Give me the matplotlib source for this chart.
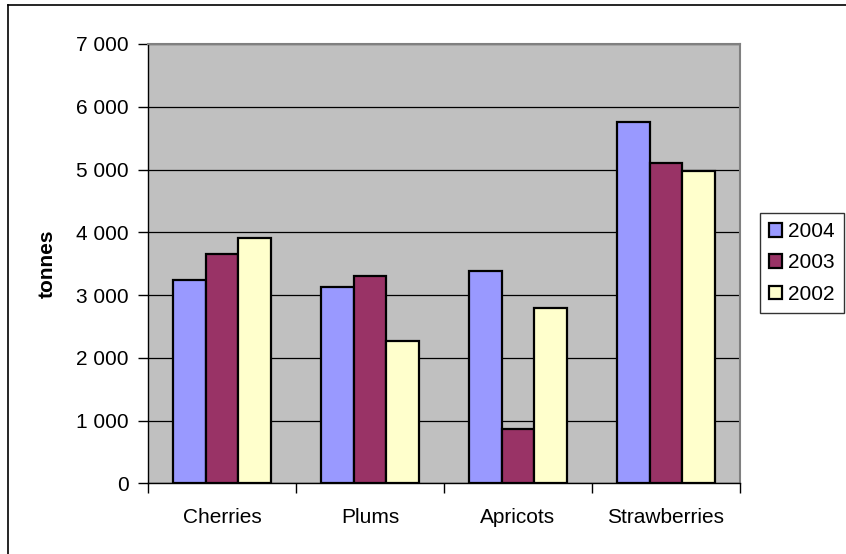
import matplotlib
matplotlib.use("Agg")
import matplotlib.pyplot as plt
from matplotlib.lines import Line2D
from matplotlib.ticker import FuncFormatter
import numpy as np

plt.rcParams['font.family'] = ['Liberation Sans', 'DejaVu Sans']

categories = ["Cherries", "Plums", "Apricots", "Strawberries"]
series_names = ["2004", "2003", "2002"]
values_2004 = [3240, 3130, 3380, 5760]
values_2003 = [3650, 3300, 865, 5110]
values_2002 = [3910, 2270, 2790, 4980]
series_colors = ["#9999FF", "#993366", "#FFFFCC"]
y_ticks = [0, 1000, 2000, 3000, 4000, 5000, 6000, 7000]

W, H = 846, 554
FS = 15
fig = plt.figure(figsize=(W / 100, H / 100), dpi=100)
fig.patch.set_facecolor("white")

# chart-area frame (left and top edges visible)
fig.add_artist(Line2D([8 / W, 8 / W], [0, 1 - 5 / H], color="black", lw=1.2,
                      transform=fig.transFigure))
fig.add_artist(Line2D([8 / W, 1], [1 - 5 / H, 1 - 5 / H], color="black", lw=1.2,
                      transform=fig.transFigure))

left, right, top, bottom = 148, 740, 44, 483.3
ax = fig.add_axes([left / W, 1 - bottom / H, (right - left) / W, (bottom - top) / H])
ax.set_facecolor("#C0C0C0")

n = len(categories)
x = np.arange(n)
bar_w = 1 / (3 + 1.5)
all_series = [values_2004, values_2003, values_2002]
for i, (vals, name, col) in enumerate(zip(all_series, series_names, series_colors)):
    ax.bar(x + (i - 1) * bar_w, vals, width=bar_w, color=col, edgecolor="black",
           linewidth=1.6, label=name, zorder=3)

ax.set_xlim(-0.5, n - 0.5)
ax.set_ylim(0, 7000)
ax.set_yticks(y_ticks)
ax.yaxis.set_major_formatter(FuncFormatter(lambda v, p: f"{int(v):,}".replace(",", " ")))
ax.yaxis.grid(True, color="black", lw=0.9, zorder=1)
ax.set_axisbelow(True)

ax.set_xticks(np.arange(-0.5, n, 1.0))
ax.set_xticklabels([])
ax.set_xticks(x, minor=True)
ax.set_xticklabels(categories, minor=True)
ax.tick_params(axis="x", which="minor", length=0, pad=18, labelsize=FS)
ax.tick_params(axis="x", which="major", length=7, width=1, color="black")
ax.tick_params(axis="y", length=7, width=1, pad=7, labelsize=FS)

for s in ["top", "right"]:
    ax.spines[s].set_color("#808080")
    ax.spines[s].set_linewidth(1.5)
for s in ["left", "bottom"]:
    ax.spines[s].set_color("black")
    ax.spines[s].set_linewidth(1.0)

ax.set_ylabel("tonnes", fontsize=FS, fontweight="bold")
ax.yaxis.set_label_coords((57 - left) / (right - left), 0.5)

leg = fig.legend(loc="upper left", bbox_to_anchor=(760 / W, 1 - 213 / H),
                 frameon=True, fancybox=False, fontsize=FS, handlelength=0.6,
                 handleheight=0.6, handletextpad=0.3, labelspacing=0.58,
                 borderpad=0.45, borderaxespad=0)
leg.get_frame().set_edgecolor("black")
leg.get_frame().set_linewidth(1.0)
for h in leg.legend_handles:
    h.set_linewidth(1.6)

fig.savefig("out.png", dpi=100, facecolor="white")
